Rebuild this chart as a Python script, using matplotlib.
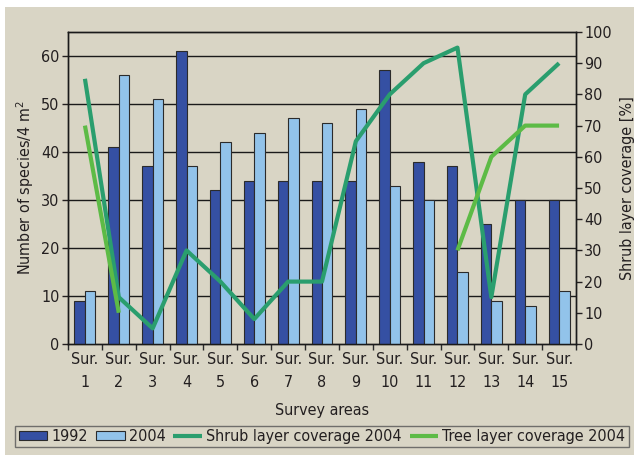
import matplotlib
matplotlib.use("Agg")
import matplotlib.pyplot as plt
import numpy as np
from matplotlib.patches import Rectangle

plt.rcParams['font.family'] = ['DejaVu Sans']
plt.rcParams['font.stretch'] = 'condensed'

areas = [f"Sur.\n{i}" for i in range(1, 16)]
y1992 = [9, 41, 37, 61, 32, 34, 34, 34, 34, 57, 38, 37, 25, 30, 30]
y2004 = [11, 56, 51, 37, 42, 44, 47, 46, 49, 33, 30, 15, 9, 8, 11]
shrub2004 = [85, 15, 5, 30, 20, 8, 20, 20, 65, 80, 90, 95, 15, 80, 90]
tree2004 = [70, 10, None, None, None, None, None, None, None, None, None, 30, 60, 70, 70]

bg = '#d9d5c5'
c1992 = '#3550a3'
c2004 = '#92c3ea'
cshrub = '#2a9e6e'
ctree = '#5dbb46'
edge = '#2b2b2b'
txt = '#231f20'
fs = 11.5

fig = plt.figure(figsize=(6.34, 4.55), dpi=100, facecolor='white')
fig.patches.append(Rectangle((5/634, 0), 1 - 5/634, 1 - 7/455, transform=fig.transFigure,
                             facecolor=bg, edgecolor='none', zorder=-10))

ax = fig.add_axes([68/634, 1 - 344/455, (576 - 68)/634, (344 - 32)/455])
ax.set_facecolor('none')
x = np.arange(1, 16)
w = 0.31
ax.bar(x - w/2, y1992, width=w, color=c1992, edgecolor=edge, linewidth=0.8, label='1992', zorder=3)
ax.bar(x + w/2, y2004, width=w, color=c2004, edgecolor=edge, linewidth=0.8, label='2004', zorder=3)
ax.set_ylim(0, 65)
ax.set_xlim(0.5, 15.5)
ax.set_yticks(range(0, 61, 10))
for v in range(10, 61, 10):
    ax.axhline(v, color='#1a1a1a', lw=1.0, zorder=1)
ax.set_xticks(x)
ax.set_xticklabels(areas, linespacing=1.6)
ax.set_xticks(np.arange(0.5, 15.6, 1), minor=True)
ax.tick_params(axis='x', which='major', length=0, pad=6, labelsize=fs, colors=txt)
ax.tick_params(axis='x', which='minor', length=4, width=1, direction='out', color=edge)
ax.tick_params(axis='y', length=4, width=1, labelsize=fs, colors=txt, pad=2)
for s in ax.spines.values():
    s.set_color('#1a1a1a')
    s.set_linewidth(1.0)
ax.set_ylabel('Number of species/4 m$^2$', fontsize=fs, color=txt, labelpad=4)
ax.set_xlabel('Survey areas', fontsize=fs, color=txt, labelpad=10)

ax2 = ax.twinx()
ax2.set_ylim(0, 100)
ax2.set_yticks(range(0, 101, 10))
ax2.tick_params(axis='y', length=4, width=1, labelsize=fs, colors=txt, pad=2)
ax2.set_ylabel('Shrub layer coverage [%]', fontsize=fs, color=txt, labelpad=6)
ax2.plot(x, shrub2004, color=cshrub, lw=3, solid_capstyle='butt', label='Shrub layer coverage 2004', zorder=4)
tree_arr = np.array([np.nan if v is None else v for v in tree2004], dtype=float)
ax2.plot(x, tree_arr, color=ctree, lw=3, solid_capstyle='butt', label='Tree layer coverage 2004', zorder=4)
for s in ax2.spines.values():
    s.set_color('#1a1a1a')
    s.set_linewidth(1.0)

h1, l1 = ax.get_legend_handles_labels()
h2, l2 = ax2.get_legend_handles_labels()
leg = fig.legend(h1 + h2, l1 + l2, loc='center', ncol=4,
                 bbox_to_anchor=(322/634, 1 - 436.5/455),
                 frameon=True, fancybox=False, fontsize=fs, handlelength=1.8,
                 handleheight=0.55, handletextpad=0.25, columnspacing=0.5,
                 borderpad=0.2, borderaxespad=0)
leg.get_frame().set_edgecolor('#555555')
leg.get_frame().set_facecolor(bg)
leg.get_frame().set_linewidth(1.0)
for t in leg.get_texts():
    t.set_color(txt)

fig.savefig('out.png', dpi=100, facecolor='white')
